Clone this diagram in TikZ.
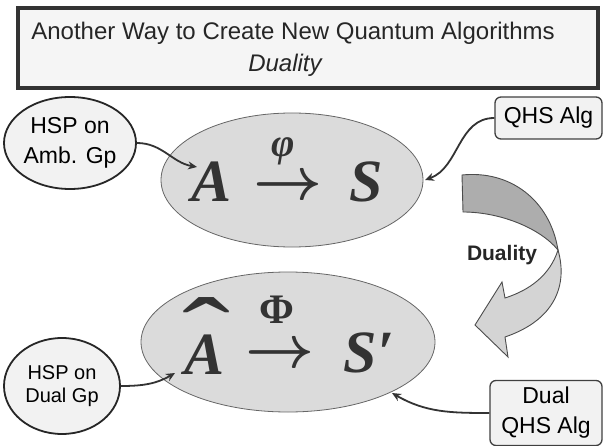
\documentclass[tikz,border=0pt]{standalone}
\usepackage{fix-cm}
\usepackage{amsmath}
\usepackage{fontspec}
\setmainfont{Liberation Sans}
\newfontfamily\symfont{Liberation Serif}
\usetikzlibrary{shapes.geometric,arrows.meta}

\tikzset{
  titlebox/.style={draw=black!80, line width=3.5pt, fill=black!4},
  hspnode/.style={ellipse, draw=black!85, line width=1.8pt, fill=black!5, align=center, inner sep=0pt},
  algbox/.style={rectangle, rounded corners=6pt, draw=black!75, line width=1.3pt, fill=black!5, align=center, inner sep=0pt},
  mapoval/.style={ellipse, draw=black!60, fill=black!14, line width=0.8pt, inner sep=0pt},
  bigsym/.style={font=\symfont\bfseries\itshape\fontsize{60}{60}\selectfont, inner sep=0pt, text=black!80},
  mapsym/.style={font=\symfont\bfseries\fontsize{60}{60}\selectfont, inner sep=0pt, text=black!80},
  conn/.style={draw=black!80, line width=1.8pt, -{Stealth[length=9pt,width=8pt]}},
  bandtop/.style={draw=black!70, line width=0.9pt, fill=black!32},
  bandlow/.style={draw=black!70, line width=0.9pt, fill=black!17}
}

\begin{document}
\begin{tikzpicture}[x=1pt,y=-1pt]
  \useasboundingbox (0,0) rectangle (604,446);

  % title
  \draw[titlebox] (18,8) rectangle (598,88);
  \node[font=\fontsize{24}{24}\selectfont, text=black!85] (title) at (293,33) {Another Way to Create New Quantum Algorithms};
  \node[font=\itshape\fontsize{24}{24}\selectfont, text=black!85] (subtitle) at (285,65) {Duality};

  % the two maps
  \node[mapoval, minimum width=262pt, minimum height=134pt] (topmap) at (292,180) {};
  \node[mapoval, minimum width=294pt, minimum height=140pt] (dualmap) at (288,342) {};

  \node[bigsym, anchor=base] (symA) at (212,202) {A};
  \node[mapsym] (arrA) at (288,188) {$\boldsymbol{\rightarrow}$};
  \node[bigsym, font=\symfont\bfseries\itshape\fontsize{40}{40}\selectfont] (phi) at (283,151) {φ};
  \node[bigsym, anchor=base] (symS) at (366,202) {S};

  \node[bigsym, anchor=base] (symAh) at (205,374) {A};
  \node[mapsym, font=\symfont\fontsize{60}{60}\selectfont, anchor=north] (hatA) at (206,297) {\scalebox{2.4}[1.7]{ˆ}};
  \node[mapsym] (arrAh) at (280,356) {$\boldsymbol{\rightarrow}$};
  \node[mapsym, font=\symfont\bfseries\fontsize{42}{42}\selectfont] (Phi) at (277,310) {Φ};
  \node[bigsym, anchor=base] (symSp) at (369,372) {S′};

  % side nodes
  \node[hspnode, minimum width=132pt, minimum height=92pt, font=\fontsize{23}{30}\selectfont] (hspamb) at (70,143) {HSP on\\Amb. Gp};
  \node[hspnode, minimum width=116pt, minimum height=96pt, font=\fontsize{20}{23}\selectfont] (hspdual) at (62,386) {HSP on\\Dual Gp};
  \node[algbox, minimum width=107pt, minimum height=42pt, font=\fontsize{23}{23}\selectfont] (qhs) at (548.5,118) {QHS Alg};
  \node[algbox, minimum width=112pt, minimum height=65pt, font=\fontsize{23}{30}\selectfont] (dualqhs) at (546,413) {Dual\\QHS Alg};

  \coordinate (tipA) at (197,167);
  \coordinate (tipS) at (425,180);
  \coordinate (tipAh) at (175,373);
  \coordinate (tipSp) at (392,393);

  \draw[conn] (hspamb.east) to[out=0, in=170] (tipA);
  \draw[conn] (qhs.west) to[out=180, in=20] (tipS);
  \draw[conn] (hspdual.east) to[out=0, in=210] (tipAh);
  \draw[conn] (dualqhs.west) to[out=180, in=-30] (tipSp);

  % duality arrow
  \coordinate (twist) at (558,250);
  \draw[bandtop] (462,175) .. controls (510,170) and (550,200) .. (twist)
    .. controls (540,228) and (500,212) .. (463,212) -- cycle;
  \draw[bandlow] (twist) .. controls (568,285) and (555,320) .. (505,337)
    -- (508,357) -- (475,325) -- (502,282) -- (505,298)
    .. controls (530,290) and (550,275) .. (twist) -- cycle;
  \node[font=\bfseries\fontsize{21}{21}\selectfont, text=black!85] (duality) at (502,255) {Duality};
\end{tikzpicture}
\end{document}
